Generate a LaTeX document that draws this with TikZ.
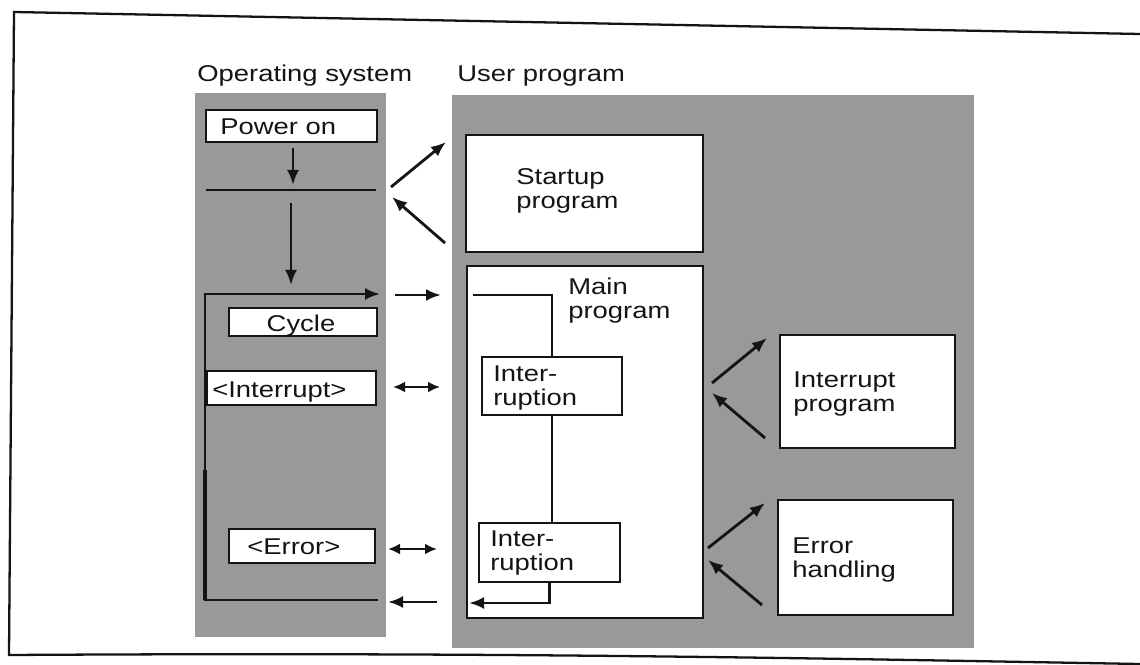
\documentclass[tikz,border=0pt]{standalone}
\usepackage{fontspec}
\setmainfont{Liberation Sans}[FakeStretch=1.2]
\usetikzlibrary{arrows.meta}
\definecolor{panel}{gray}{0.6}
\definecolor{ink}{gray}{0.08}
\newcommand\pxbox[6]{\node[#6, minimum width={(#4-#2)*0.02cm}, minimum height={(#5-#3)*0.02cm}] (#1) at ({(#2+#4)/2},{(#3+#5)/2}) {};}
\begin{document}
\begin{tikzpicture}[x=0.02cm,y=-0.02cm,
  panelbox/.style={fill=panel, draw=none, inner sep=0pt, outer sep=0pt},
  wbox/.style={fill=white, draw=ink, line width=1.3pt, inner sep=0pt, outer sep=0pt},
  lbl/.style={font=\fontsize{13}{14}\selectfont, text=ink, inner sep=0pt, align=left, anchor=base west},
  arr/.style={draw=ink, line width=1.6pt, -{Latex[length=0.3cm,width=0.24cm]}},
  darr/.style={draw=ink, line width=1.6pt, {Latex[length=0.24cm,width=0.22cm]}-{Latex[length=0.24cm,width=0.22cm]}},
  flow/.style={draw=ink, line width=1.3pt}]
\useasboundingbox (0,0) rectangle (1140,665);
\fill[white] (0,0) rectangle (1140,665);
% outer frame
\draw[ink, line width=1.3pt] (1140,34) -- (14,12) -- (9,655) .. controls (500,652) and (800,658) .. (1140,664);
% titles
\node[lbl] (ostitle) at (197,82) {Operating system};
\node[lbl] (uptitle) at (457,82) {User program};
% panels
\pxbox{ospanel}{195}{93}{386}{637}{panelbox}
\pxbox{uppanel}{452}{95}{974}{648}{panelbox}
% cycle loop
\coordinate (loopTL) at (205,294);
\coordinate (loopTR) at (380,294);
\coordinate (loopBL) at (205,600);
\coordinate (loopBR) at (378,600);
\coordinate (loopMid) at (205,470);
\draw[arr] (loopBR) -- (loopBL) -- (loopTL) -- (loopTR);
\draw[ink, line width=2.8pt] (loopBL) -- (loopMid);
% boxes
\pxbox{poweron}{206}{110}{377}{142}{wbox}
\pxbox{startup}{466}{135}{703}{252}{wbox}
\pxbox{mainprog}{467}{266}{703}{618}{wbox}
\pxbox{cycle}{229}{308}{377}{336}{wbox}
\pxbox{interrupt}{207}{371}{376}{405}{wbox}
\pxbox{error}{229}{529}{375}{563}{wbox}
\pxbox{intA}{482}{357}{622}{415}{wbox}
\pxbox{intB}{479}{523}{620}{582}{wbox}
\pxbox{intprog}{780}{335}{955}{448}{wbox}
\pxbox{errhand}{778}{500}{953}{615}{wbox}
% OS flow
\coordinate (lineL) at (206,190);
\coordinate (lineR) at (376,190);
\draw[flow] (lineL) -- (lineR);
\coordinate (p1) at (293,148);
\coordinate (p2) at (293,185);
\draw[arr] (p1) -- (p2);
\coordinate (p3) at (291,203);
\coordinate (p4) at (291,285);
\draw[arr] (p3) -- (p4);
% arrows between panels
\coordinate (a1s) at (391,187); \coordinate (a1e) at (446,142);
\draw[arr] (a1s) -- (a1e);
\coordinate (a2s) at (445,243); \coordinate (a2e) at (392,197);
\draw[arr] (a2s) -- (a2e);
\coordinate (a3s) at (395,295); \coordinate (a3e) at (441,295);
\draw[arr] (a3s) -- (a3e);
\coordinate (a4s) at (393,387); \coordinate (a4e) at (440,387);
\draw[darr] (a4s) -- (a4e);
\coordinate (a5s) at (388,549); \coordinate (a5e) at (437,549);
\draw[darr] (a5s) -- (a5e);
\coordinate (a6s) at (437,602); \coordinate (a6e) at (388,602);
\draw[arr] (a6s) -- (a6e);
% main program inner flow
\coordinate (m1) at (473,295); \coordinate (m2) at (552,295);
\draw[flow] (m1) -- (m2) -- (m2 |- intA.north);
\draw[flow] (intA.south) -- (intA.south |- intB.north);
\coordinate (b3) at (469,603);
\draw[arr] (intB.south) |- (b3);
% right arrows
\coordinate (r1s) at (712,383); \coordinate (r1e) at (767,338);
\draw[arr] (r1s) -- (r1e);
\coordinate (r2s) at (765,438); \coordinate (r2e) at (712,393);
\draw[arr] (r2s) -- (r2e);
\coordinate (r3s) at (708,548); \coordinate (r3e) at (765,503);
\draw[arr] (r3s) -- (r3e);
\coordinate (r4s) at (762,605); \coordinate (r4e) at (708,560);
\draw[arr] (r4s) -- (r4e);
% labels (multi-line: anchor on last baseline)
\node[lbl] (tpower) at (220,135) {Power on};
\node[lbl, anchor=base] (tcycle) at (301,332) {Cycle};
\node[lbl] (tinterrupt) at (212,398) {<Interrupt>};
\node[lbl] (terror) at (247,555) {<Error>};
\node[lbl] (tstartup) at (516,209) {Startup\\program};
\node[lbl] (tmain) at (568,319) {Main\\program};
\node[lbl] (tintA) at (493,406) {Inter-\\ruption};
\node[lbl] (tintB) at (490,571) {Inter-\\ruption};
\node[lbl] (tintprog) at (793,412) {Interrupt\\program};
\node[lbl] (terrhand) at (792,578) {Error\\handling};
\end{tikzpicture}
\end{document}
